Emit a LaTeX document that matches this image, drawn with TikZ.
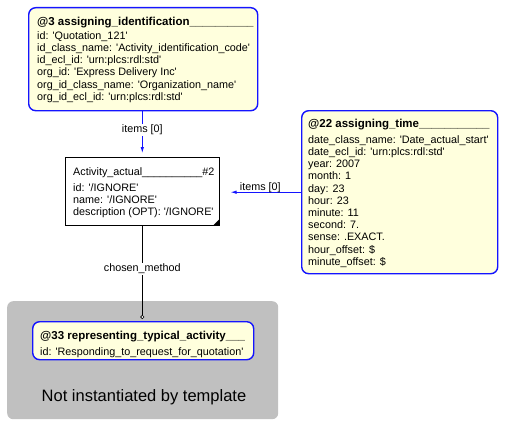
\documentclass[tikz,border=0pt]{standalone}
\usepackage{fontspec}
\setmainfont{Liberation Sans}
\usetikzlibrary{arrows.meta,calc}
\newcommand\qs{\textquotesingle}
\newcommand\hdr[1]{{\fontsize{11.5}{12.2}\selectfont\bfseries #1}}
\definecolor{eblue}{RGB}{20,20,255}
\definecolor{eyellow}{RGB}{255,255,221}
\definecolor{egray}{RGB}{192,192,192}
\begin{document}
\begin{tikzpicture}[x=1pt,y=-1pt,
  ybox/.style={draw=eblue, line width=1.4pt, fill=eyellow, rounded corners=7pt, inner sep=0pt, anchor=north west},
  wbox/.style={draw=black, line width=0.6pt, fill=white, inner sep=0pt, anchor=north west},
  gbox/.style={fill=egray, rounded corners=6pt, inner sep=0pt, anchor=north west},
  txt/.style={inner sep=0pt, anchor=north west, align=left, font=\fontsize{10.8}{12.2}\selectfont},
  lbl/.style={font=\fontsize{10.8}{12}\selectfont, inner sep=1pt},
  conn/.style={draw=eblue, line width=0.8pt},
  blk/.style={draw=black, line width=0.6pt}]
\useasboundingbox (0,0) rectangle (506,428);

% group area
\node[gbox, minimum width=271pt, minimum height=118pt] (grp) at (7,301) {};
\node[font=\fontsize{16.5}{18}\selectfont, inner sep=0pt] (nit) at (144,397) {Not instantiated by template};

% boxes
\node[ybox, minimum width=229pt, minimum height=103pt] (b3) at (28,7) {};
\node[txt] (b3t) at (37,16.5) {\hdr{@3 assigning\_identification\_\_\_\_\_\_\_\_\_\_}\\[2pt]
id: \qs Quotation\_121\qs\\
id\_class\_name: \qs Activity\_identification\_code\qs\\
id\_ecl\_id: \qs urn:plcs:rdl:std\qs\\
org\_id: \qs Express Delivery Inc\qs\\
org\_id\_class\_name: \qs Organization\_name\qs\\
org\_id\_ecl\_id: \qs urn:plcs:rdl:std\qs};

\node[wbox, minimum width=154pt, minimum height=68pt] (act) at (65,157) {};
\node[txt] (actt) at (73,167) {Activity\_actual\_\_\_\_\_\_\_\_\_\_\#2\\[4pt]
id: \qs/IGNORE\qs\\
name: \qs/IGNORE\qs\\
description (OPT): \qs/IGNORE\qs};
\fill ($(act.south east)+(-0.3,-0.3)$) -- ++(0,-6) -- ++(-6,6) -- cycle;

\node[ybox, minimum width=196pt, minimum height=163pt] (b22) at (301,110) {};
\node[txt] (b22t) at (308,118.5) {\hdr{@22 assigning\_time\_\_\_\_\_\_\_\_\_\_\_}\\[4pt]
date\_class\_name: \qs Date\_actual\_start\qs\\
date\_ecl\_id: \qs urn:plcs:rdl:std\qs\\
year: 2007\\
month: 1\\
day: 23\\
hour: 23\\
minute: 11\\
second: 7.\\
sense: .EXACT.\\
hour\_offset: \$\\
minute\_offset: \$};

\node[ybox, minimum width=221pt, minimum height=38pt] (b33) at (32,321) {};
\node[txt] (b33t) at (40,330.5) {\hdr{@33 representing\_typical\_activity\_\_\_}\\[4pt]
id: \qs Responding\_to\_request\_for\_quotation\qs};

% connectors
\draw[conn, -{Latex[length=6pt,width=3.5pt]}, shorten >=4pt] (act.north |- b3.south) -- node[lbl, fill=white, pos=0.4] (l1) {items [0]} (act.north);
\draw[conn, -{Latex[length=6pt,width=3.5pt]}, shorten >=11pt] (b22.west) -- node[lbl, anchor=base, pos=0.5, yshift=1.5pt] (l2) {items [0]} (act.east |- b22.west);
\draw[blk, -{Circle[open, length=4pt, fill=white]}, shorten >=2pt] (act.south) -- node[lbl, fill=white, pos=0.45] (l3) {chosen\_method} (act.south |- b33.north);
\end{tikzpicture}
\end{document}
